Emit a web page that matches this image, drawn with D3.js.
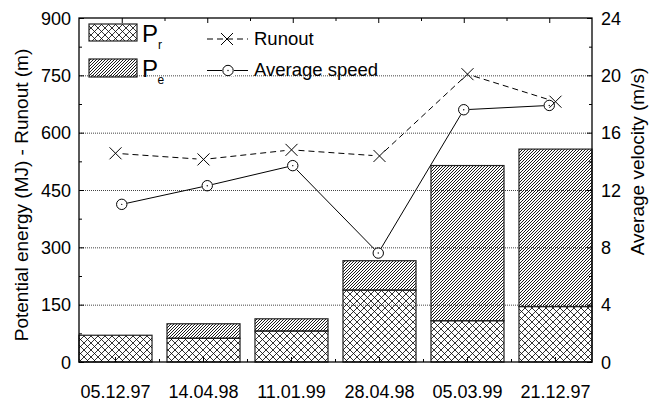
<!DOCTYPE html>
<html>
<head>
<meta charset="utf-8">
<script src="https://cdn.jsdelivr.net/npm/d3@7"></script>
<style>
  html, body { margin: 0; padding: 0; background: #fff; }
  svg { display: block; }
  text { font-family: "Liberation Sans", Arial, sans-serif; fill: #000; }
</style>
</head>
<body>
<svg id="chart" width="655" height="404"></svg>
<script>
// Event dates (x categories)
const categories = ["05.12.97", "14.04.98", "11.01.99", "28.04.98", "05.03.99", "21.12.97"];
// Potential energy components (MJ)
const prValues = [70, 62, 81, 188, 108, 145];
const peValues = [0, 38, 32, 77, 406, 412];
// Runout distance (m)
const runoutValues = [546, 530, 555, 539, 753, 681];
// Average speed (m/s)
const speedValues = [11.0, 12.3, 13.7, 7.6, 17.6, 17.9];
// Axis ticks
const leftTicks = [0, 150, 300, 450, 600, 750, 900];
const rightTicks = [0, 4, 8, 12, 16, 20, 24];

const svg = d3.select("#chart");
const L = 79, R = 592, T = 18, B = 362;

const yL = d3.scaleLinear().domain([0, 900]).range([B, T]);
const yR = d3.scaleLinear().domain([0, 24]).range([B, T]);
const xBand = d3.scaleBand().domain(categories).range([L, R]).paddingInner(0.17).paddingOuter(0);
const xLin = d3.scaleLinear().domain([0.5, 6.5]).range([L, R]);
const bandMid = c => xBand(c) + xBand.bandwidth() / 2;

// Fill patterns
const defs = svg.append("defs");
const cross = defs.append("pattern").attr("id", "cross")
  .attr("patternUnits", "userSpaceOnUse").attr("width", 7).attr("height", 7);
cross.append("path").attr("d", "M0,0 L7,7 M0,7 L7,0")
  .attr("stroke", "#000").attr("stroke-width", 0.8).attr("fill", "none");
const hatch = defs.append("pattern").attr("id", "hatch")
  .attr("patternUnits", "userSpaceOnUse").attr("width", 3).attr("height", 3);
hatch.append("path").attr("d", "M-1,1 L1,-1 M0,3 L3,0 M2,4 L4,2")
  .attr("stroke", "#000").attr("stroke-width", 0.9).attr("fill", "none");

// Grid lines
svg.append("g").selectAll("line")
  .data(leftTicks.filter(v => v > 0 && v < 900))
  .join("line")
  .attr("x1", L).attr("x2", R)
  .attr("y1", d => yL(d) + 0.5).attr("y2", d => yL(d) + 0.5)
  .attr("stroke", "#444").attr("stroke-width", 1).attr("stroke-dasharray", "1,1");

// Stacked bars
const bars = svg.append("g");
categories.forEach((c, i) => {
  const pr = prValues[i], pe = peValues[i];
  bars.append("rect")
    .attr("x", xBand(c)).attr("width", xBand.bandwidth())
    .attr("y", yL(pr)).attr("height", yL(0) - yL(pr))
    .attr("fill", "url(#cross)").attr("stroke", "#222").attr("stroke-width", 1.2);
  if (pe > 0) {
    bars.append("rect")
      .attr("x", xBand(c)).attr("width", xBand.bandwidth())
      .attr("y", yL(pr + pe)).attr("height", yL(pr) - yL(pr + pe))
      .attr("fill", "url(#hatch)").attr("stroke", "#222").attr("stroke-width", 1.2);
  }
});

// Line segments that stop short of the markers
function gappedSegments(g, pts, gap, dash) {
  for (let i = 0; i < pts.length - 1; i++) {
    const [x1, y1] = pts[i], [x2, y2] = pts[i + 1];
    const dx = x2 - x1, dy = y2 - y1, len = Math.hypot(dx, dy);
    const ux = dx / len, uy = dy / len;
    g.append("line")
      .attr("x1", x1 + ux * gap).attr("y1", y1 + uy * gap)
      .attr("x2", x2 - ux * gap).attr("y2", y2 - uy * gap)
      .attr("stroke", "#000").attr("stroke-width", 1)
      .attr("stroke-dasharray", dash || null);
  }
}
function crossMark(g, x, y, s) {
  g.append("path")
    .attr("d", `M${x - s},${y - s}L${x + s},${y + s}M${x - s},${y + s}L${x + s},${y - s}`)
    .attr("stroke", "#000").attr("stroke-width", 1).attr("fill", "none");
}
function circleMark(g, x, y, r) {
  g.append("circle").attr("cx", x).attr("cy", y).attr("r", r)
    .attr("fill", "none").attr("stroke", "#000").attr("stroke-width", 1);
  g.append("circle").attr("cx", x).attr("cy", y).attr("r", 0.7).attr("fill", "#000");
}

// Runout series (left axis)
const runG = svg.append("g");
const runPts = categories.map((c, i) => [bandMid(c), yL(runoutValues[i])]);
gappedSegments(runG, runPts, 7, "6,4");
runPts.forEach(p => crossMark(runG, p[0], p[1], 6));

// Average speed series (right axis)
const spdG = svg.append("g");
const spdPts = speedValues.map((v, i) => [xLin(i + 1), yR(v)]);
gappedSegments(spdG, spdPts, 5.5);
spdPts.forEach(p => circleMark(spdG, p[0], p[1], 5.2));

// Frame
svg.append("rect").attr("x", L).attr("y", T).attr("width", R - L).attr("height", B - T)
  .attr("fill", "none").attr("stroke", "#000").attr("stroke-width", 1.3);

// Axes with inward ticks
const axLeft = d3.axisRight(yL).tickValues(leftTicks).tickSize(5).tickFormat("");
const axLeftMinor = d3.axisRight(yL).tickValues(d3.range(75, 900, 150)).tickSize(3).tickFormat("");
const axRight = d3.axisLeft(yR).tickValues(rightTicks).tickSize(5).tickFormat("");
const axRightMinor = d3.axisLeft(yR).tickValues(d3.range(2, 24, 4)).tickSize(3).tickFormat("");
const axBottom = d3.axisTop(xBand).tickSize(5).tickFormat("");
const axTop = d3.axisBottom(xLin).tickValues([1, 2, 3, 4, 5, 6]).tickSize(5).tickFormat("");
const axTopMinor = d3.axisBottom(xLin).tickValues([1.5, 2.5, 3.5, 4.5, 5.5]).tickSize(3).tickFormat("");

function styleAxis(g) {
  g.select(".domain").remove();
  g.selectAll(".tick line").attr("stroke", "#000").attr("stroke-width", 1);
}
svg.append("g").attr("transform", `translate(${L},0)`).call(axLeft).call(styleAxis);
svg.append("g").attr("transform", `translate(${L},0)`).call(axLeftMinor).call(styleAxis);
svg.append("g").attr("transform", `translate(${R},0)`).call(axRight).call(styleAxis);
svg.append("g").attr("transform", `translate(${R},0)`).call(axRightMinor).call(styleAxis);
svg.append("g").attr("transform", `translate(0,${B})`).call(axBottom).call(styleAxis);
svg.append("g").selectAll("line")
  .data(categories.slice(0, -1))
  .join("line")
  .attr("x1", (c, i) => (bandMid(c) + bandMid(categories[i + 1])) / 2)
  .attr("x2", (c, i) => (bandMid(c) + bandMid(categories[i + 1])) / 2)
  .attr("y1", B).attr("y2", B - 3).attr("stroke", "#000");
svg.append("g").attr("transform", `translate(0,${T})`).call(axTop).call(styleAxis);
svg.append("g").attr("transform", `translate(0,${T})`).call(axTopMinor).call(styleAxis);

// Tick labels
const tickFont = 18;
svg.append("g").selectAll("text").data(leftTicks).join("text")
  .attr("x", 71).attr("y", d => yL(d) + 6.5)
  .attr("text-anchor", "end").attr("font-size", tickFont).text(d => d);
svg.append("g").selectAll("text").data(rightTicks).join("text")
  .attr("x", 601).attr("y", d => yR(d) + 6.5)
  .attr("text-anchor", "start").attr("font-size", tickFont).text(d => d);
svg.append("g").selectAll("text").data(categories).join("text")
  .attr("x", d => bandMid(d)).attr("y", 398)
  .attr("text-anchor", "middle").attr("font-size", tickFont).text(d => d);

// Axis titles
svg.append("text").attr("transform", "translate(28,195) rotate(-90)")
  .attr("text-anchor", "middle").attr("font-size", 19)
  .text("Potential energy (MJ) - Runout (m)");
svg.append("text").attr("transform", "translate(644,161.5) rotate(-90)")
  .attr("text-anchor", "middle").attr("font-size", 19)
  .text("Average velocity (m/s)");

// Legend
const lg = svg.append("g");
lg.append("rect").attr("x", 89).attr("y", 24).attr("width", 48).attr("height", 17)
  .attr("fill", "url(#cross)").attr("stroke", "#222").attr("stroke-width", 1.2);
lg.append("rect").attr("x", 89).attr("y", 59).attr("width", 48).attr("height", 18)
  .attr("fill", "url(#hatch)").attr("stroke", "#222").attr("stroke-width", 1.2);
lg.append("text").attr("x", 142).attr("y", 42).attr("font-size", 24).text("P");
lg.append("text").attr("x", 158).attr("y", 49).attr("font-size", 12).text("r");
lg.append("text").attr("x", 142).attr("y", 77).attr("font-size", 24).text("P");
lg.append("text").attr("x", 157.5).attr("y", 84).attr("font-size", 12).text("e");

gappedSegments(lg, [[207, 39], [227, 39], [248, 39]], 0, "6,4");
crossMark(lg, 227, 39, 6);
lg.append("text").attr("x", 254).attr("y", 45).attr("font-size", 18.5).text("Runout");
gappedSegments(lg, [[207, 70.5], [228, 70.5]], 0);
gappedSegments(lg, [[228, 70.5], [248, 70.5]], 0);
lg.append("rect").attr("x", 222).attr("y", 65).attr("width", 12).attr("height", 11).attr("fill", "#fff");
circleMark(lg, 228, 70.5, 5.2);
lg.append("text").attr("x", 254).attr("y", 76).attr("font-size", 18.5).text("Average speed");
</script>
</body>
</html>
